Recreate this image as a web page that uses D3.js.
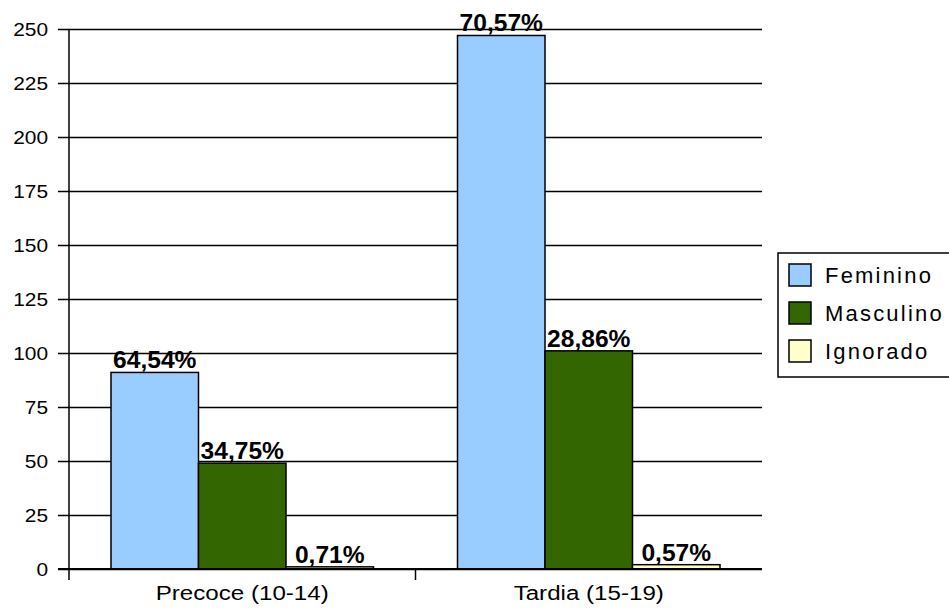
<!DOCTYPE html>
<html><head><meta charset="utf-8">
<script src="https://cdn.jsdelivr.net/npm/d3@7"></script>
<style>body{margin:0;background:#fff}svg{display:block}text{font-family:"Liberation Sans",Arial,sans-serif;fill:#000}</style>
</head><body>
<svg id="c" width="949" height="613"></svg>
<script>
const categories = ["Precoce (10-14)", "Tardia (15-19)"];
const seriesNames = ["Feminino", "Masculino", "Ignorado"];
const feminino = [91, 247];
const masculino = [49, 101];
const ignorado = [1, 2];
const pctLabels = [["64,54%", "34,75%", "0,71%"], ["70,57%", "28,86%", "0,57%"]];
const yTicks = [0, 25, 50, 75, 100, 125, 150, 175, 200, 225, 250];
const colors = ["#99CCFF", "#336600", "#FFFFCC"];

const values = [feminino, masculino, ignorado];
const svg = d3.select("#c");
const L = 69, R = 762, T = 29, B = 569;
const y = d3.scaleLinear().domain([0, 250]).range([B, T]);
const x0 = d3.scaleBand().domain(categories).range([L, R]);
const x1 = d3.scaleBand().domain(seriesNames).range([0, x0.bandwidth()]).paddingInner(0).paddingOuter(0.48);
const color = d3.scaleOrdinal().domain(seriesNames).range(colors);

function stretch(sel, sx) {
  sel.each(function () {
    const t = d3.select(this);
    const ax = +t.attr("x"), ay = +t.attr("y");
    t.attr("transform", `translate(${ax},${ay}) scale(${sx},1) translate(${-ax},${-ay})`);
  });
}

// gridlines + y ticks
const yAxis = d3.axisLeft(y).tickValues(yTicks).tickSize(-(R - L)).tickPadding(0).tickFormat(d3.format("d"));
const gy = svg.append("g").attr("transform", `translate(${L},0)`).call(yAxis);
gy.select(".domain").remove();
gy.selectAll(".tick line").attr("x1", -11).attr("stroke", "#000").attr("stroke-width", 1.4);
gy.selectAll(".tick text").attr("x", -21).attr("y", 0).attr("dy", "0.36em").style("font-size", "19px");
stretch(gy.selectAll(".tick text"), 1.1);

// bars
const groups = svg.append("g").selectAll("g").data(categories).join("g")
  .attr("transform", d => `translate(${x0(d)},0)`);
groups.selectAll("rect").data((c, ci) => seriesNames.map((s, si) => ({ s, v: values[si][ci] })))
  .join("rect")
  .attr("x", d => x1(d.s)).attr("width", x1.bandwidth())
  .attr("y", d => y(d.v)).attr("height", d => y(0) - y(d.v))
  .attr("fill", d => color(d.s)).attr("stroke", "#000").attr("stroke-width", 1.5);

// axes lines
svg.append("line").attr("x1", L).attr("x2", L).attr("y1", T).attr("y2", B + 11).attr("stroke", "#000").attr("stroke-width", 1.5);
svg.append("line").attr("x1", L - 11).attr("x2", R).attr("y1", B).attr("y2", B).attr("stroke", "#000").attr("stroke-width", 2);
svg.append("line").attr("x1", x0(categories[1])).attr("x2", x0(categories[1])).attr("y1", B).attr("y2", B + 11).attr("stroke", "#000").attr("stroke-width", 1.5);

// x labels
const xl = svg.append("g").selectAll("text").data(categories).join("text")
  .attr("x", d => x0(d) + x0.bandwidth() / 2).attr("y", 600)
  .attr("text-anchor", "middle").style("font-size", "21px").text(d => d);
stretch(xl, 1.15);

// data labels
const dl = groups.selectAll("text.val").data((c, ci) => seriesNames.map((s, si) => ({ s, v: values[si][ci], lab: pctLabels[ci][si] })))
  .join("text").attr("class", "val")
  .attr("x", d => x1(d.s) + x1.bandwidth() / 2).attr("y", d => y(d.v) - 4)
  .attr("text-anchor", "middle").style("font-size", "23px").style("font-weight", "bold").text(d => d.lab);
stretch(dl, 1.07);

// legend
const lg = svg.append("g");
lg.append("rect").attr("x", 778).attr("y", 253).attr("width", 180).attr("height", 124).attr("fill", "#fff").attr("stroke", "#000").attr("stroke-width", 1.5);
const li = lg.selectAll("g.it").data(seriesNames).join("g").attr("class", "it")
  .attr("transform", (d, i) => `translate(789,${264 + i * 38})`);
li.append("rect").attr("width", 22).attr("height", 22).attr("fill", d => color(d)).attr("stroke", "#000").attr("stroke-width", 1.5);
li.append("text").attr("x", 36).attr("y", 11).attr("dy", "0.36em").style("font-size", "22px").style("letter-spacing", "2.2px").text(d => d);
</script>
</body></html>
